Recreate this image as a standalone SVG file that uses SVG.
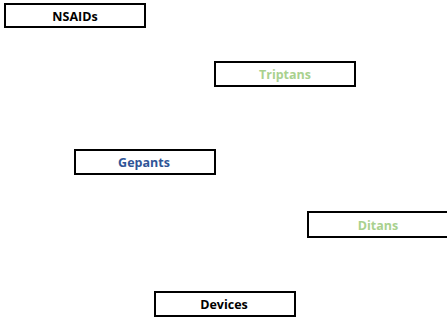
<svg xmlns="http://www.w3.org/2000/svg" width="447" height="321" viewBox="0 0 447 321">
<style>
rect.box{fill:#ffffff;stroke:#000000;stroke-width:2}
text{font-family:"Open Sans","Liberation Sans",sans-serif;font-weight:bold;font-size:12.5px;text-anchor:middle;dominant-baseline:central}
.black{fill:#000000}
.green{fill:#A9D18E}
.blue{fill:#2F5597}
</style>
<rect width="447" height="321" fill="#ffffff"/>
<g id="nsaids"><rect class="box" x="5" y="4" width="140" height="23"/><text class="black" x="75" y="16">NSAIDs</text></g>
<g id="triptans"><rect class="box" x="215" y="62" width="140" height="24"/><text class="green" x="285" y="74">Triptans</text></g>
<g id="gepants"><rect class="box" x="75" y="150" width="140" height="24"/><text class="blue" x="144" y="162">Gepants</text></g>
<g id="ditans"><rect class="box" x="308" y="212" width="140" height="25"/><text class="green" x="378" y="225">Ditans</text></g>
<g id="devices"><rect class="box" x="155" y="292" width="140" height="24"/><text class="black" x="224" y="304">Devices</text></g>
<g id="connectors"></g>
</svg>
